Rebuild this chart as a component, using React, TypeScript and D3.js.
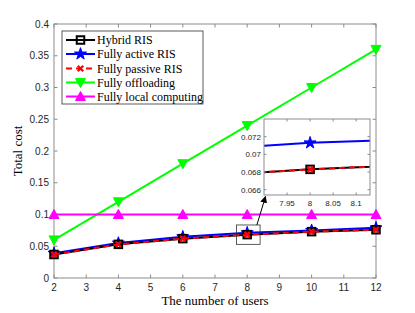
import React, { useEffect, useRef } from "react";
import * as d3 from "d3";

const users = [2, 4, 6, 8, 10, 12];
const hybridRis = [0.037, 0.053, 0.062, 0.0683, 0.073, 0.076];
const activeRis = [0.039, 0.055, 0.065, 0.0713, 0.075, 0.079];
const passiveRis = [0.037, 0.053, 0.062, 0.0683, 0.073, 0.076];
const fullyOffloading = [0.06, 0.12, 0.18, 0.24, 0.3, 0.36];
const fullyLocal = [0.1, 0.1, 0.1, 0.1, 0.1, 0.1];

const xTicks = [2, 3, 4, 5, 6, 7, 8, 9, 10, 11, 12];
const yTicks = [0, 0.05, 0.1, 0.15, 0.2, 0.25, 0.3, 0.35, 0.4];
const insetXTicks = [7.95, 8, 8.05, 8.1];
const insetYTicks = [0.066, 0.068, 0.07, 0.072];

const series = [
  { name: "Hybrid RIS", values: hybridRis, color: "#000000", marker: "square", dash: "" },
  { name: "Fully active RIS", values: activeRis, color: "#0000ff", marker: "star", dash: "" },
  { name: "Fully passive RIS", values: passiveRis, color: "#ff0000", marker: "cross", dash: "6,4" },
  { name: "Fully offloading", values: fullyOffloading, color: "#00ff00", marker: "down", dash: "" },
  { name: "Fully local computing", values: fullyLocal, color: "#ff00ff", marker: "up", dash: "" },
];

const axisColor = "#262626";
const boxColor = "#8c8c8c";

function drawMarker(g: any, type: string, cx: number, cy: number, color: string, s: number) {
  if (type === "square") {
    g.append("rect").attr("x", cx - s * 0.75).attr("y", cy - s * 0.75)
      .attr("width", s * 1.5).attr("height", s * 1.5)
      .attr("fill", "none").attr("stroke", color).attr("stroke-width", 2);
  } else if (type === "star") {
    g.append("path").attr("d", d3.symbol(d3.symbolStar, s * s * 1.8)())
      .attr("transform", `translate(${cx},${cy})`)
      .attr("fill", color).attr("stroke", color).attr("stroke-width", 1);
  } else if (type === "cross") {
    const r = s * 0.55;
    g.append("path").attr("d", `M${cx - r},${cy - r}L${cx + r},${cy + r}M${cx - r},${cy + r}L${cx + r},${cy - r}`)
      .attr("stroke", color).attr("stroke-width", 2.2);
  } else if (type === "down" || type === "up") {
    const k = type === "down" ? 1 : -1;
    g.append("path")
      .attr("d", `M${cx - s},${cy - k * s * 0.8}L${cx + s},${cy - k * s * 0.8}L${cx},${cy + k * s}Z`)
      .attr("fill", color).attr("stroke", color).attr("stroke-width", 1);
  }
}

const App = () => {
  const svgRef = useRef<SVGSVGElement>(null);

  useEffect(() => {
    const width = 415;
    const height = 313;
    const left = 54, right = 376, top = 24, bottom = 278;

    const svg = d3.select(svgRef.current).attr("width", width).attr("height", height);
    svg.selectAll("*").remove();

    const x = d3.scaleLinear().domain([2, 12]).range([left, right]);
    const y = d3.scaleLinear().domain([0, 0.4]).range([bottom, top]);

    // box
    svg.append("rect").attr("x", left).attr("y", top).attr("width", right - left).attr("height", bottom - top)
      .attr("fill", "white").attr("stroke", boxColor).attr("stroke-width", 1);

    // ticks inward on all four sides
    const tk = svg.append("g").attr("stroke", boxColor).attr("stroke-width", 1);
    xTicks.forEach((t) => {
      tk.append("line").attr("x1", x(t)).attr("x2", x(t)).attr("y1", bottom).attr("y2", bottom - 3.5);
      tk.append("line").attr("x1", x(t)).attr("x2", x(t)).attr("y1", top).attr("y2", top + 3.5);
    });
    yTicks.forEach((t) => {
      tk.append("line").attr("x1", left).attr("x2", left + 3.5).attr("y1", y(t)).attr("y2", y(t));
      tk.append("line").attr("x1", right).attr("x2", right - 3.5).attr("y1", y(t)).attr("y2", y(t));
    });

    svg.append("g").selectAll("text").data(xTicks).join("text")
      .attr("x", (d) => x(d)).attr("y", bottom + 13).attr("text-anchor", "middle")
      .attr("font-family", "Liberation Sans, Arial, sans-serif").attr("font-size", 10).attr("fill", axisColor)
      .text((d) => d);
    svg.append("g").selectAll("text").data(yTicks).join("text")
      .attr("x", left - 5).attr("y", (d) => y(d) + 3.5).attr("text-anchor", "end")
      .attr("font-family", "Liberation Sans, Arial, sans-serif").attr("font-size", 10).attr("fill", axisColor)
      .text((d) => d3.format("~g")(d));

    svg.append("text").attr("x", (left + right) / 2).attr("y", 305).attr("text-anchor", "middle")
      .attr("font-family", "Liberation Serif, Times New Roman, serif").attr("font-size", 13).attr("fill", "#000")
      .text("The number of users");
    svg.append("text").attr("transform", `translate(22,${(top + bottom) / 2}) rotate(-90)`)
      .attr("text-anchor", "middle")
      .attr("font-family", "Liberation Serif, Times New Roman, serif").attr("font-size", 13).attr("fill", "#000")
      .text("Total cost");

    const drawSeries = (g: any, xs: any, ys: any, ms: number) => {
      // order: offloading, local, active, hybrid, passive
      const order = [3, 4, 1, 0, 2];
      order.forEach((i) => {
        const s = series[i];
        const line = d3.line<number>().x((_, j) => xs(users[j])).y((d) => ys(d));
        g.append("path").datum(s.values).attr("fill", "none").attr("stroke", s.color)
          .attr("stroke-width", 2).attr("stroke-dasharray", s.dash || null).attr("d", line);
        s.values.forEach((v, j) => drawMarker(g, s.marker, xs(users[j]), ys(v), s.color, ms));
      });
    };

    drawSeries(svg.append("g"), x, y, 5);

    // zoom rectangle and arrow
    svg.append("rect").attr("x", x(7.67)).attr("y", y(0.0835))
      .attr("width", x(8.4) - x(7.67)).attr("height", y(0.053) - y(0.0835))
      .attr("fill", "none").attr("stroke", "#333").attr("stroke-width", 0.8);

    // inset
    const il = 264, ir = 370, it = 119, ib = 195;
    const ix = d3.scaleLinear().domain([7.9, 8.13]).range([il, ir]);
    const iy = d3.scaleLinear().domain([0.0654, 0.074]).range([ib, it]);

    svg.append("defs").append("clipPath").attr("id", "insetClip")
      .append("rect").attr("x", il).attr("y", it).attr("width", ir - il).attr("height", ib - it);

    svg.append("rect").attr("x", il).attr("y", it).attr("width", ir - il).attr("height", ib - it)
      .attr("fill", "white");
    drawSeries(svg.append("g").attr("clip-path", "url(#insetClip)"), ix, iy, 5);
    svg.append("rect").attr("x", il).attr("y", it).attr("width", ir - il).attr("height", ib - it)
      .attr("fill", "none").attr("stroke", boxColor).attr("stroke-width", 1);

    const itk = svg.append("g").attr("stroke", boxColor).attr("stroke-width", 1);
    insetXTicks.forEach((t) => {
      itk.append("line").attr("x1", ix(t)).attr("x2", ix(t)).attr("y1", ib).attr("y2", ib - 2.5);
      itk.append("line").attr("x1", ix(t)).attr("x2", ix(t)).attr("y1", it).attr("y2", it + 2.5);
    });
    insetYTicks.forEach((t) => {
      itk.append("line").attr("x1", il).attr("x2", il + 2.5).attr("y1", iy(t)).attr("y2", iy(t));
      itk.append("line").attr("x1", ir).attr("x2", ir - 2.5).attr("y1", iy(t)).attr("y2", iy(t));
    });
    svg.append("g").selectAll("text").data(insetXTicks).join("text")
      .attr("x", (d) => ix(d)).attr("y", ib + 11).attr("text-anchor", "middle")
      .attr("font-family", "Liberation Sans, Arial, sans-serif").attr("font-size", 8).attr("fill", axisColor)
      .text((d) => d3.format("~g")(d));
    svg.append("g").selectAll("text").data(insetYTicks).join("text")
      .attr("x", il - 3).attr("y", (d) => iy(d) + 3).attr("text-anchor", "end")
      .attr("font-family", "Liberation Sans, Arial, sans-serif").attr("font-size", 8).attr("fill", axisColor)
      .text((d) => d3.format("~g")(d));

    // arrow
    svg.append("defs").append("marker").attr("id", "arrowHead").attr("viewBox", "0 0 10 10")
      .attr("refX", 9).attr("refY", 5).attr("markerWidth", 7).attr("markerHeight", 7)
      .attr("orient", "auto-start-reverse")
      .append("path").attr("d", "M0,0L10,5L0,10Z").attr("fill", "#000");
    svg.append("line").attr("x1", x(8.3)).attr("y1", y(0.0835)).attr("x2", il + 1.5).attr("y2", ib + 1.5)
      .attr("stroke", "#000").attr("stroke-width", 1).attr("marker-end", "url(#arrowHead)");

    // legend
    const lg = svg.append("g");
    lg.append("rect").attr("x", 62).attr("y", 31).attr("width", 141).attr("height", 73)
      .attr("fill", "white").attr("stroke", "#333").attr("stroke-width", 0.8);
    const rowY = [40, 54, 68.5, 82.5, 96.5];
    series.forEach((s, i) => {
      lg.append("line").attr("x1", 66).attr("x2", 95).attr("y1", rowY[i]).attr("y2", rowY[i])
        .attr("stroke", s.color).attr("stroke-width", 2).attr("stroke-dasharray", s.dash || null);
      drawMarker(lg, s.marker, 80.5, rowY[i], s.color, 5);
      lg.append("text").attr("x", 97).attr("y", rowY[i] + 4).attr("font-family", "Liberation Serif, Times New Roman, serif")
        .attr("font-size", 12).attr("fill", "#000").text(s.name);
    });
  }, []);

  return (
    <div style={{ position: "absolute", left: 0, top: 0 }}>
      <svg ref={svgRef}></svg>
    </div>
  );
};

export default App;
